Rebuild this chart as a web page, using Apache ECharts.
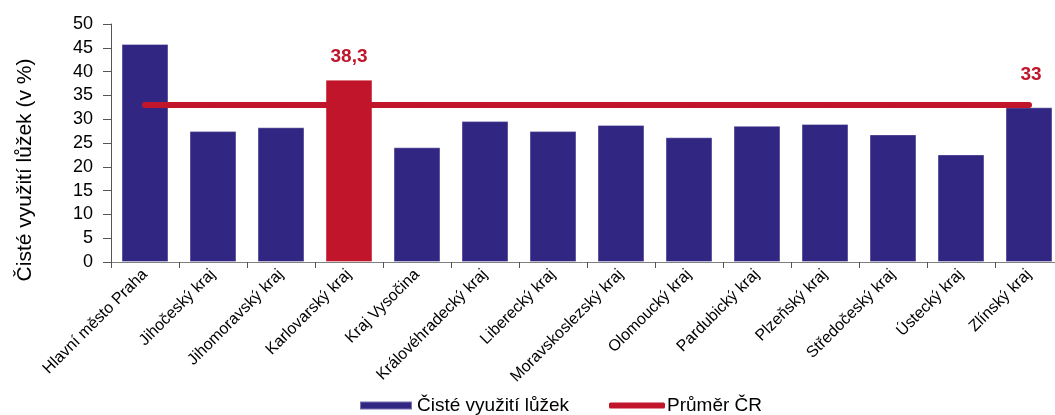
<!DOCTYPE html>
<html>
<head>
<meta charset="utf-8">
<script src="https://cdn.jsdelivr.net/npm/echarts@6/dist/echarts.min.js"></script>
<style>
html,body{margin:0;padding:0;background:#fff;}
#c{width:1055px;height:415px;}
</style>
</head>
<body>
<div id="c"></div>
<script>
const categories = ['Hlavní město Praha','Jihočeský kraj','Jihomoravský kraj','Karlovarský kraj','Kraj Vysočina','Královéhradecký kraj','Liberecký kraj','Moravskoslezský kraj','Olomoucký kraj','Pardubický kraj','Plzeňský kraj','Středočeský kraj','Ústecký kraj','Zlínský kraj'];
const occupancy = [45.8, 27.5, 28.3, 38.3, 24.1, 29.6, 27.5, 28.8, 26.2, 28.6, 29.0, 26.8, 22.6, 32.5];
const average = [33, 33, 33, 33, 33, 33, 33, 33, 33, 33, 33, 33, 33, 33];
const highlightIndex = 3;
const yTicks = {min: 0, max: 50, interval: 5};

const NAVY = '#312783';
const RED = '#C0152A';
const FONT = 'Liberation Sans, Arial, sans-serif';

const barData = occupancy.map((v, i) => i === highlightIndex ? {
  value: v,
  itemStyle: {color: RED},
  label: {show: true, position: 'top', distance: 13, formatter: p => String(p.value).replace('.', ','),
    color: RED, fontSize: 19, fontWeight: 'bold', fontFamily: FONT}
} : v);

const lineData = average.map((v, i) => i === average.length - 1 ? {
  value: v,
  label: {show: true, position: 'top', distance: 20, offset: [2, 0], color: RED, fontSize: 19, fontWeight: 'bold', fontFamily: FONT}
} : v);

const chart = echarts.init(document.getElementById('c'));
chart.setOption({
  animation: false,
  textStyle: {fontFamily: FONT},
  grid: {left: 111, right: -8, top: 24, bottom: 153, outerBoundsMode: 'none', containLabel: false},
  legend: [
    {data: [{name: 'Čisté využití lůžek', icon: 'rect'}], left: 359, top: 396, padding: 0, itemWidth: 52, itemHeight: 8,
     itemGap: 0, textStyle: {fontSize: 19, color: '#000', fontFamily: FONT}, selectedMode: false},
    {data: [{name: 'Průměr ČR', icon: 'roundRect', itemStyle: {color: RED}}], left: 609, top: 396, padding: 0, itemWidth: 56, itemHeight: 6,
     itemGap: 0, textStyle: {fontSize: 19, color: '#000', fontFamily: FONT, padding: [0,0,0,-3]}, selectedMode: false}
  ],
  xAxis: {
    type: 'category',
    data: categories,
    boundaryGap: true,
    axisLine: {lineStyle: {color: '#808080', width: 1}},
    axisTick: {show: true, alignWithLabel: false, length: 6, lineStyle: {color: '#555'}},
    axisLabel: {rotate: 45, interval: 0, fontSize: 16, color: '#000', margin: 10, fontFamily: FONT}
  },
  yAxis: {
    type: 'value',
    min: yTicks.min, max: yTicks.max, interval: yTicks.interval,
    name: 'Čisté využití lůžek (v %)',
    nameLocation: 'middle',
    nameGap: 75,
    nameRotate: 90,
    nameTextStyle: {fontSize: 21, color: '#000', fontFamily: FONT, padding: [0, 54, 0, 0]},
    axisLine: {show: true, lineStyle: {color: '#555', width: 1}},
    axisTick: {show: true, length: 8, lineStyle: {color: '#555'}},
    axisLabel: {fontSize: 18, color: '#000', margin: 18, fontFamily: FONT},
    splitLine: {show: false}
  },
  series: [
    {
      name: 'Čisté využití lůžek',
      type: 'bar',
      data: barData,
      barCategoryGap: '31%',
      itemStyle: {color: NAVY, borderColor: 'rgba(255,255,255,0.35)', borderWidth: 1},
      z: 2
    },
    {
      name: 'Průměr ČR',
      type: 'line',
      data: lineData,
      symbol: 'circle',
      symbolSize: 1,
      showSymbol: true,
      lineStyle: {color: RED, width: 6, cap: 'round'},
      itemStyle: {color: RED},
      z: 3
    }
  ]
});
</script>
</body>
</html>
